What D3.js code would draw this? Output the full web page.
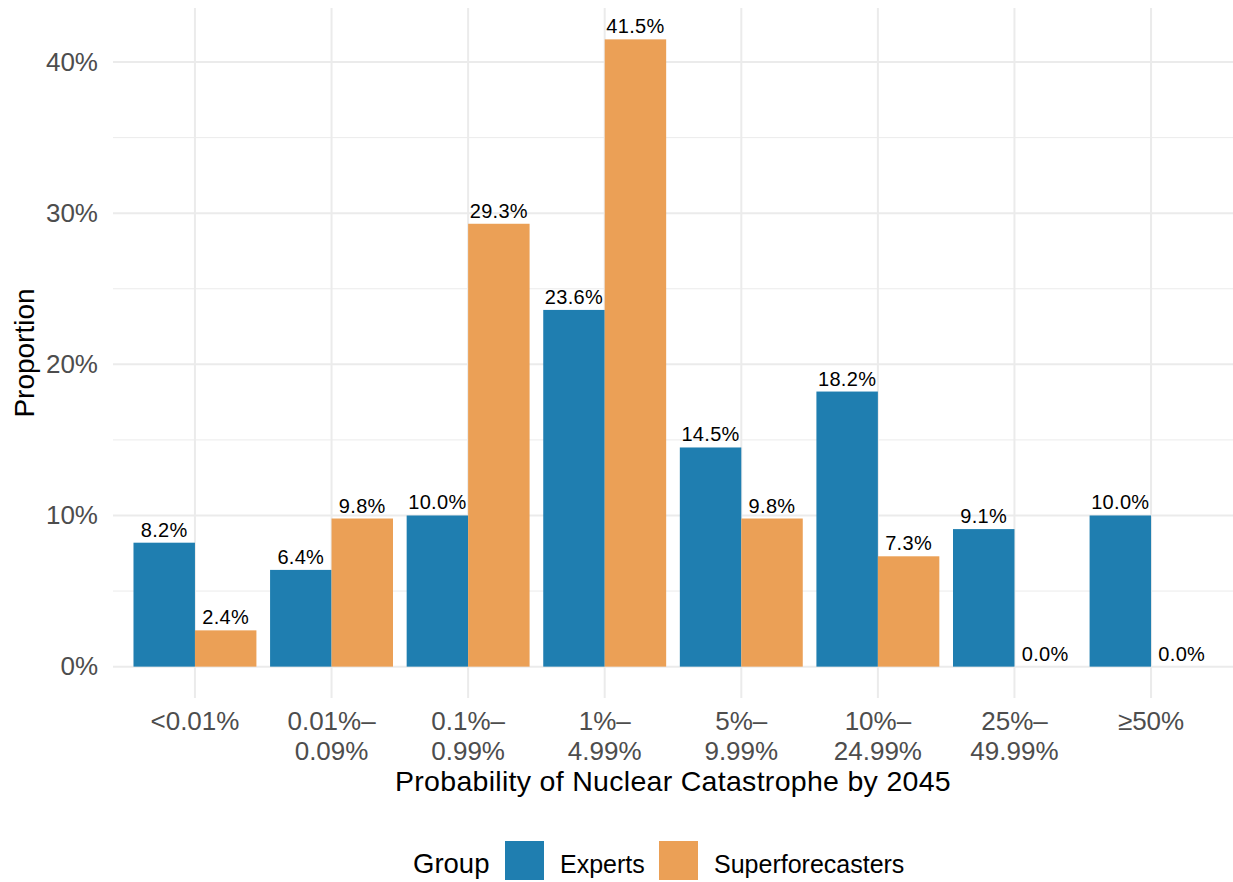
<!DOCTYPE html>
<html>
<head>
<meta charset="utf-8">
<script src="https://cdn.jsdelivr.net/npm/d3@7"></script>
<style>
  html, body { margin: 0; padding: 0; background: #fff; }
  svg { display: block; font-family: "Liberation Sans", Arial, Helvetica, sans-serif; }
</style>
</head>
<body>
<svg id="chart" width="1233" height="882"></svg>
<script>
// ---- data ----
const categories = ["<0.01%", "0.01%–\n0.09%", "0.1%–\n0.99%", "1%–\n4.99%", "5%–\n9.99%", "10%–\n24.99%", "25%–\n49.99%", "≥50%"];
const groups = ["Experts", "Superforecasters"];
const expertsValues = [8.2, 6.4, 10.0, 23.6, 14.5, 18.2, 9.1, 10.0];
const superforecastersValues = [2.4, 9.8, 29.3, 41.5, 9.8, 7.3, 0.0, 0.0];
const yTicks = [0, 10, 20, 30, 40];
const yMinorTicks = [5, 15, 25, 35];
const xTitle = "Probability of Nuclear Catastrophe by 2045";
const yTitle = "Proportion";
const legendTitle = "Group";

// ---- layout ----
const colors = { "Experts": "#1F7EB0", "Superforecasters": "#EBA056" };
const svg = d3.select("#chart");
const panel = { left: 113, right: 1233, top: 8, bottom: 698 };

const seriesValues = { "Experts": expertsValues, "Superforecasters": superforecastersValues };
const rows = categories.map((c, i) => ({ cat: c, values: groups.map(g => ({ group: g, value: seriesValues[g][i] })) }));

const maxVal = d3.max(groups.flatMap(g => seriesValues[g]));
const ext = maxVal * 0.05;
const y = d3.scaleLinear().domain([-ext, maxVal + ext]).range([panel.bottom, panel.top]);
const x = d3.scaleBand().domain(categories).range([panel.left, panel.right]).paddingInner(0.1).paddingOuter(0.15);
const xg = d3.scaleBand().domain(groups).range([0, x.bandwidth()]).padding(0);

const grid = svg.append("g");
// minor horizontal grid
grid.selectAll("line.minor").data(yMinorTicks).join("line")
  .attr("x1", panel.left).attr("x2", panel.right)
  .attr("y1", d => y(d)).attr("y2", d => y(d))
  .attr("stroke", "#EBEBEB").attr("stroke-width", 1);
// major horizontal grid
grid.selectAll("line.majorY").data(yTicks).join("line")
  .attr("x1", panel.left).attr("x2", panel.right)
  .attr("y1", d => y(d)).attr("y2", d => y(d))
  .attr("stroke", "#EBEBEB").attr("stroke-width", 2);
// major vertical grid
grid.selectAll("line.majorX").data(categories).join("line")
  .attr("x1", d => x(d) + x.bandwidth() / 2).attr("x2", d => x(d) + x.bandwidth() / 2)
  .attr("y1", panel.top).attr("y2", panel.bottom)
  .attr("stroke", "#EBEBEB").attr("stroke-width", 2);

// bars
const gCat = svg.append("g").selectAll("g").data(rows).join("g")
  .attr("transform", d => `translate(${x(d.cat)},0)`);
gCat.selectAll("rect").data(d => d.values).join("rect")
  .attr("x", d => xg(d.group))
  .attr("width", xg.bandwidth())
  .attr("y", d => y(Math.max(0, d.value)))
  .attr("height", d => Math.abs(y(0) - y(d.value)))
  .attr("fill", d => colors[d.group]);
gCat.selectAll("text").data(d => d.values).join("text")
  .attr("x", d => xg(d.group) + xg.bandwidth() / 2)
  .attr("y", d => y(d.value) - 6)
  .attr("text-anchor", "middle")
  .attr("font-size", 20)
  .attr("letter-spacing", 0.3)
  .attr("fill", "#000")
  .text(d => d.value.toFixed(1) + "%");

// y axis labels
const yAxis = d3.axisLeft(y).tickValues(yTicks).tickFormat(d => d + "%").tickSize(0).tickPadding(15);
const ya = svg.append("g").attr("transform", `translate(${panel.left},0)`).call(yAxis);
ya.select(".domain").remove();
ya.selectAll("text").attr("font-size", 26).attr("fill", "#4D4D4D").attr("font-family", null);

// x axis labels (multi-line)
const xAxis = d3.axisBottom(x).tickSize(0).tickFormat("");
const xa = svg.append("g").attr("transform", `translate(0,${panel.bottom})`).call(xAxis);
xa.select(".domain").remove();
xa.selectAll(".tick").each(function(d) {
  const t = d3.select(this).append("text")
    .attr("text-anchor", "middle").attr("font-size", 26).attr("fill", "#4D4D4D");
  d.split("\n").forEach((line, i) => {
    t.append("tspan").attr("x", 0).attr("y", 32 + i * 30).text(line);
  });
});

// axis titles
svg.append("text").attr("x", (panel.left + panel.right) / 2).attr("y", 791)
  .attr("text-anchor", "middle").attr("font-size", 28.5).attr("letter-spacing", 0.3).attr("fill", "#000").text(xTitle);
svg.append("text").attr("transform", `translate(34,${(panel.top + panel.bottom) / 2}) rotate(-90)`)
  .attr("text-anchor", "middle").attr("font-size", 28).attr("fill", "#000").text(yTitle);

// legend
const leg = svg.append("g");
leg.append("text").attr("x", 413).attr("y", 873).attr("font-size", 27.5).attr("fill", "#000").text(legendTitle);
const legX = [505, 659];
groups.forEach((g, i) => {
  leg.append("rect").attr("x", legX[i]).attr("y", 841).attr("width", 39).attr("height", 39).attr("fill", colors[g]);
  leg.append("text").attr("x", legX[i] + 55).attr("y", 873).attr("font-size", 25).attr("fill", "#000").text(g);
});
</script>
</body>
</html>
